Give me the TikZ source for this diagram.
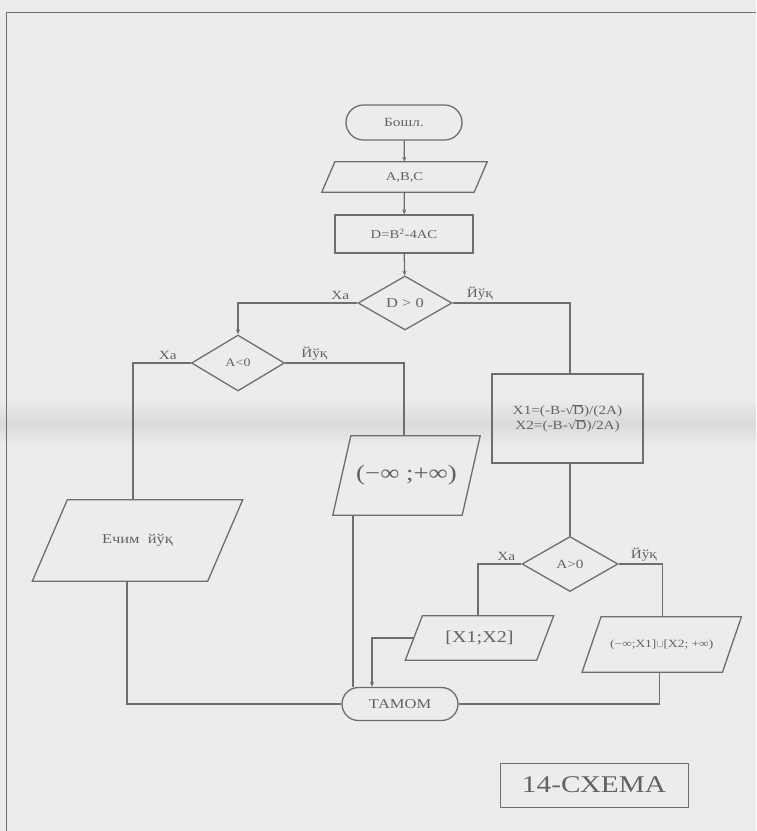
\documentclass[tikz,border=0pt]{standalone}
\usepackage{fontspec}
\setmainfont{Liberation Serif}[FakeStretch=1.22]
\usetikzlibrary{shapes.geometric,shapes.misc,arrows.meta}
\definecolor{paper}{HTML}{ECECEC}
\definecolor{band}{HTML}{DADADA}
\definecolor{ink}{HTML}{6E6E6E}
\definecolor{txt}{HTML}{626262}
\tikzset{
  line/.style={draw=ink, line width=1.3pt},
  arr/.style={line, -{Stealth[length=5pt,width=4pt]}},
  box/.style={line, rectangle, inner sep=0pt, text=txt, align=center},
  paratext/.style={rectangle, inner sep=0pt, text=txt, align=center},
  decision/.style={line, diamond, inner sep=0pt, text=txt},
  term/.style={line, rounded rectangle, inner sep=0pt, text=txt},
  lbl/.style={text=txt, font=\fontsize{12.5}{14}\selectfont, inner sep=0pt},
}
% square root of D in text: radical glyph and a bar over the letter
\newcommand{\rootD}{√\kern-0.05em\rlap{\rule[0.7em]{0.78em}{0.05em}}D}
% parallelogram: name, x, y, edge width, height, slant, text
\newcommand{\paranode}[7]{%
  \node[paratext, minimum width=#4pt, minimum height=#5pt] (#1) at (#2,#3) {#7};
  \draw[line] ([xshift=#6pt/2]#1.north west) -- ([xshift=#6pt/2]#1.north east)
    -- ([xshift=-#6pt/2]#1.south east) -- ([xshift=-#6pt/2]#1.south west) -- cycle;
}
\begin{document}
\begin{tikzpicture}[x=1pt, y=-1pt]
  % page
  \fill[paper] (0,0) rectangle (756,831);
  \useasboundingbox (0,0) rectangle (756,831);
  \shade[top color=paper, bottom color=band] (0,398) rectangle (756,424);
  \shade[top color=band, bottom color=paper] (0,424) rectangle (756,446);
  \draw[ink, line width=1pt] (6,831) -- (6,12) -- (756,12);

  % start and input
  \node[term, minimum width=116pt, minimum height=35pt, font=\fontsize{12.5}{14}\selectfont] (start) at (404,122.5) {Бошл.};
  \paranode{abc}{404.5}{177}{152}{30}{13}{\fontsize{12}{14}\selectfont A,B,C}
  \node[box, minimum width=138pt, minimum height=38pt, font=\fontsize{12}{14}\selectfont] (drect) at (404,234) {D=B\textsuperscript{2}-4AC};
  \node[decision, minimum width=94pt, minimum height=54pt, font=\fontsize{13.5}{15}\selectfont] (d1) at (405,303) {D > 0};

  \draw[arr] (start) -- (abc);
  \draw[arr] (abc) -- (drect);
  \draw[arr] (drect) -- (d1);

  % left branch
  \node[decision, minimum width=93pt, minimum height=56pt, font=\fontsize{11.5}{13}\selectfont] (d2) at (238,363) {A<0};
  \paranode{ech}{137.5}{540.5}{175}{81}{35}{\fontsize{13.5}{15}\selectfont Ечим\ \ йўқ}
  \paranode{all}{406.5}{475.5}{129}{79}{18}{\fontsize{22}{26}\selectfont (−∞ ;+∞)}

  \draw[arr] (d1.west) -| (d2.north);
  \draw[line] (d2.west) -| ([xshift=-4.5pt]ech.north);
  \draw[line] (d2.east) -| ([xshift=-2.5pt]all.north);

  % right branch
  \node[box, minimum width=151pt, minimum height=89pt, font=\fontsize{12.5}{15}\selectfont] (roots) at (567.5,418.5)
    {X1=(-B-\rootD)/(2A)\\ X2=(-B-\rootD)/2A)};
  \node[decision, minimum width=96pt, minimum height=55pt, font=\fontsize{12.5}{14}\selectfont] (d3) at (570,564) {A>0};
  \paranode{inner}{479.5}{638}{131}{44}{17}{\fontsize{16.5}{18}\selectfont [X1;X2]}
  \paranode{outer}{661.75}{644.5}{140}{55}{19}{\fontsize{11}{13}\selectfont (−∞;X1]$\cup$[X2; +∞)}

  \draw[line] (d1.east) -| ([xshift=2.5pt]roots.north);
  \draw[line] ([xshift=2.5pt]roots.south) -- (d3.north);
  \draw[line] (d3.west) -| ([xshift=-1.5pt]inner.north);
  \draw[line] (d3.east) -| ([xshift=1pt]outer.north);

  % end
  \node[term, minimum width=116pt, minimum height=33pt, font=\fontsize{13.5}{15}\selectfont] (stop) at (400,704) {ТАМОМ};
  \coordinate (inA) at (353,0);
  \coordinate (inB) at (372,0);
  \draw[line] ([xshift=-10.5pt]ech.south) |- (stop.west);
  \draw[line] ([xshift=-53.5pt]all.south) -- (inA |- stop.north);
  \draw[arr] (inner.west) -| (inB |- stop.north);
  \draw[line] ([xshift=-2pt]outer.south) |- (stop.east);

  % branch labels
  \node[lbl, anchor=south east] (l1) at ([xshift=-8pt,yshift=3pt]d1.west) {Ха};
  \node[lbl, anchor=south west] (l2) at ([xshift=14pt,yshift=3pt]d1.east) {Йўқ};
  \node[lbl, anchor=south east] (l3) at ([xshift=-14pt,yshift=3pt]d2.west) {Ха};
  \node[lbl, anchor=south west] (l4) at ([xshift=16pt,yshift=3pt]d2.east) {Йўқ};
  \node[lbl, anchor=south east] (l5) at ([xshift=-6pt,yshift=3pt]d3.west) {Ха};
  \node[lbl, anchor=south west] (l6) at ([xshift=12pt,yshift=3pt]d3.east) {Йўқ};

  % caption box
  \node[box, line width=1pt, minimum width=188pt, minimum height=44pt, font=\fontsize{24}{28}\selectfont] (title) at (594,785) {14-СХЕМА};
\end{tikzpicture}
\end{document}
